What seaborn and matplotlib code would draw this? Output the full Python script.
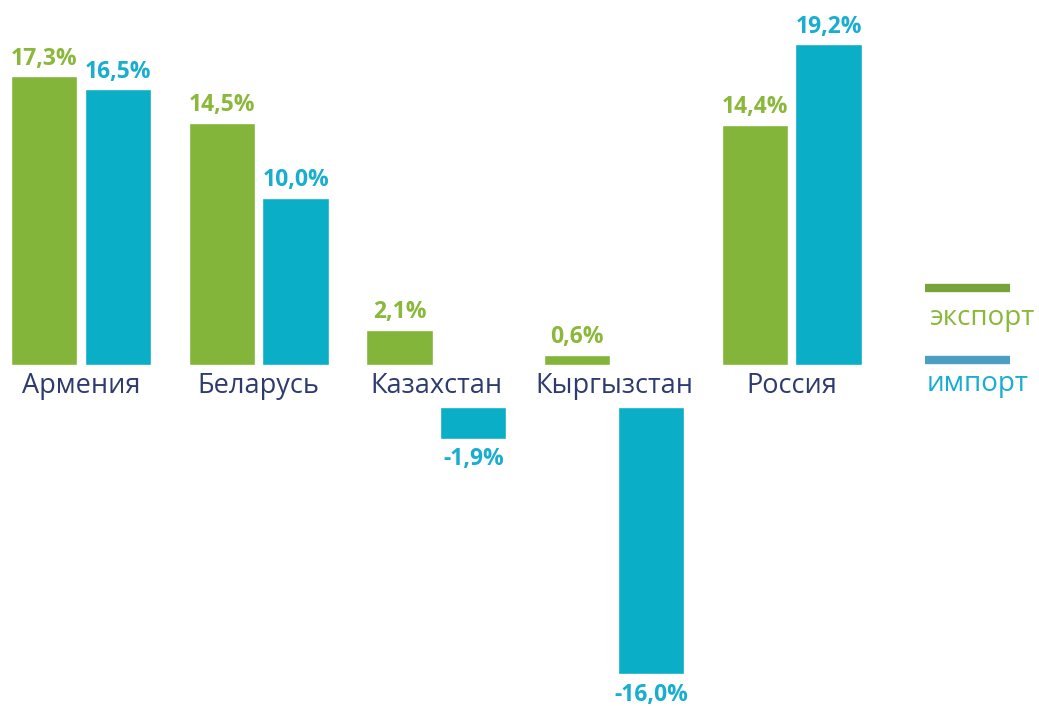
import matplotlib
matplotlib.use("Agg")
import matplotlib.pyplot as plt
import seaborn as sns
import pandas as pd
import numpy as np
from matplotlib.lines import Line2D

countries = ["Армения", "Беларусь", "Казахстан", "Кыргызстан", "Россия"]
export_vals = [17.3, 14.5, 2.1, 0.6, 14.4]
import_vals = [16.5, 10.0, -1.9, -16.0, 19.2]
series_names = ["экспорт", "импорт"]

GREEN = "#82b53a"
TEAL = "#0aaec6"
GREEN_TXT = "#8ab83a"
TEAL_TXT = "#17aed0"
NAVY = "#2d3b6e"

sns.set_style("white")
plt.rcParams["font.family"] = ["Open Sans", "DejaVu Sans"]

rows = []
for c, e, i in zip(countries, export_vals, import_vals):
    rows.append({"country": c, "type": series_names[0], "value": e})
    rows.append({"country": c, "type": series_names[1], "value": i})
df = pd.DataFrame(rows)
df["pos"] = df["value"].clip(lower=0)
df["neg"] = df["value"].clip(upper=0)

W, H = 1039, 706
fig = plt.figure(figsize=(W / 100, H / 100), dpi=100)
pxu = 16.7  # pixels per percent
top_base = 365
bot_base = 407
ax_top = fig.add_axes([0, 1 - top_base / H, 1, top_base / H])
ax_bot = fig.add_axes([0, 0, 1, (H - bot_base) / H])

xlim = (-81 / 177.7, (W - 81) / 177.7)

for ax, col in ((ax_top, "pos"), (ax_bot, "neg")):
    sns.barplot(data=df, x="country", y=col, hue="type", hue_order=series_names,
                order=countries, palette=[GREEN, TEAL], width=0.83, gap=0.1,
                saturation=1, legend=False, ax=ax)
    ax.set_xlim(*xlim)
    ax.set_xlabel("")
    ax.set_ylabel("")
    ax.set_yticks([])
    for s in ax.spines.values():
        s.set_visible(False)

ax_top.set_ylim(0, top_base / pxu)
ax_bot.set_ylim(-(H - bot_base) / pxu, 0)

ax_top.tick_params(axis="x", length=0, pad=5)
ax_top.set_xticks(range(len(countries)))
ax_top.set_xticklabels(countries, fontsize=19.5, color=NAVY)
ax_bot.set_xticks([])

def fmt(v):
    return f"{v:.1f}%".replace(".", ",")

vals = {series_names[0]: export_vals, series_names[1]: import_vals}
colors_txt = [GREEN_TXT, TEAL_TXT]
for ax, positive in ((ax_top, True), (ax_bot, False)):
    for k, cont in enumerate(ax.containers[:2]):
        v = vals[series_names[k]]
        labels = [fmt(x) if ((x >= 0) == positive) else "" for x in v]
        ax.bar_label(cont, labels=labels, padding=4 if positive else 6,
                     fontsize=16.5, fontweight="bold", color=colors_txt[k])

# legend
fig.add_artist(Line2D([925 / W, 1010 / W], [1 - 288 / H, 1 - 288 / H],
                      color="#76a33a", lw=6, solid_capstyle="butt",
                      transform=fig.transFigure))
fig.add_artist(Line2D([925 / W, 1010 / W], [1 - 360 / H, 1 - 360 / H],
                      color="#4a9fc3", lw=6, solid_capstyle="butt",
                      transform=fig.transFigure))
fig.text(982 / W, 1 - 318 / H, series_names[0], color=GREEN_TXT, fontsize=20,
         ha="center", va="center")
fig.text(978 / W, 1 - 384 / H, series_names[1], color=TEAL_TXT, fontsize=20,
         ha="center", va="center")

fig.savefig("out.png", dpi=100, facecolor="white")
